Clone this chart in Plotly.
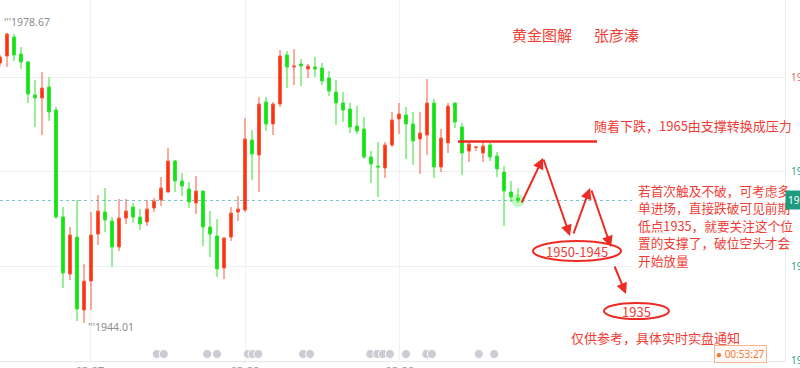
import plotly.graph_objects as go

# XAU/USD hourly candles, 03-27 .. 03-29
opens = [1975.08, 1975.92, 1978.19, 1976.16, 1975.20, 1971.26, 1970.90, 1972.21, 1969.46, 1956.67,
         1949.86, 1954.28, 1945.56, 1949.02, 1954.64, 1957.27, 1956.20, 1953.09, 1956.55, 1957.87,
         1956.67, 1956.08, 1957.75, 1958.71, 1959.66, 1963.37, 1960.98, 1960.02, 1958.35, 1959.78,
         1955.48, 1954.40, 1950.58, 1954.28, 1957.27, 1957.51, 1965.88, 1964.08, 1970.42, 1967.79,
         1970.18, 1976.04, 1974.60, 1974.96, 1974.36, 1974.60, 1974.48, 1973.29, 1971.61, 1970.30,
         1969.58, 1967.55, 1967.19, 1963.85, 1962.77, 1962.53, 1965.28, 1968.39, 1968.87, 1967.79,
         1966.00, 1966.47, 1970.30, 1962.65, 1965.52, 1970.30, 1967.43, 1964.56, 1964.98, 1964.32,
         1965.28, 1963.96, 1962.05, 1959.66, 1958.94]
highs = [1976.04, 1978.67, 1978.55, 1976.99, 1975.32, 1973.05, 1974.00, 1973.41, 1969.82, 1957.87,
         1955.48, 1958.71, 1951.06, 1957.27, 1959.30, 1960.14, 1956.67, 1958.83, 1958.83, 1958.35,
         1957.63, 1958.71, 1958.94, 1961.45, 1964.92, 1963.49, 1961.93, 1960.86, 1961.57, 1959.85,
         1957.39, 1956.44, 1954.28, 1957.87, 1959.18, 1968.51, 1967.07, 1971.02, 1971.02, 1970.42,
         1976.63, 1976.51, 1976.75, 1975.56, 1974.96, 1975.80, 1975.08, 1974.12, 1973.05, 1971.61,
         1970.30, 1969.94, 1968.63, 1964.56, 1965.64, 1965.64, 1969.22, 1970.30, 1969.82, 1969.22,
         1969.22, 1973.17, 1970.78, 1967.19, 1970.30, 1970.36, 1967.91, 1965.64, 1965.16, 1965.88,
         1965.52, 1964.44, 1962.77, 1960.98, 1960.14]
lows = [1974.72, 1974.60, 1975.32, 1974.36, 1970.30, 1967.43, 1966.47, 1968.15, 1956.44, 1948.19,
        1949.14, 1944.24, 1944.01, 1945.56, 1953.33, 1954.88, 1950.70, 1952.61, 1955.84, 1955.96,
        1955.12, 1955.60, 1957.27, 1957.99, 1959.60, 1959.66, 1959.18, 1957.75, 1957.03, 1953.21,
        1951.89, 1949.50, 1949.26, 1953.81, 1956.20, 1957.27, 1961.10, 1959.66, 1966.95, 1966.47,
        1969.82, 1972.09, 1972.45, 1972.33, 1973.29, 1973.41, 1972.45, 1971.14, 1967.67, 1968.03,
        1966.71, 1966.59, 1963.61, 1960.74, 1959.06, 1961.33, 1965.04, 1966.59, 1963.61, 1962.89,
        1961.81, 1964.08, 1961.33, 1962.05, 1964.32, 1967.31, 1961.69, 1963.25, 1964.56, 1963.25,
        1963.37, 1961.45, 1955.60, 1958.47, 1958.35]
closes = [1975.80, 1978.55, 1976.04, 1975.20, 1971.38, 1970.90, 1972.09, 1969.22, 1956.67, 1949.98,
          1954.52, 1945.68, 1949.02, 1954.52, 1957.39, 1956.32, 1953.09, 1956.55, 1957.39, 1956.67,
          1955.84, 1957.63, 1958.59, 1960.14, 1963.37, 1960.98, 1960.38, 1958.47, 1959.78, 1955.48,
          1954.64, 1950.46, 1954.16, 1957.15, 1957.63, 1966.00, 1964.20, 1970.18, 1967.79, 1970.18,
          1975.92, 1974.60, 1974.72, 1974.72, 1974.72, 1974.36, 1972.93, 1971.73, 1970.30, 1969.46,
          1967.43, 1966.95, 1963.85, 1963.01, 1962.65, 1965.28, 1968.27, 1968.99, 1967.79, 1965.76,
          1966.71, 1970.30, 1962.65, 1966.12, 1969.94, 1968.03, 1964.32, 1965.40, 1965.04, 1965.16,
          1963.85, 1962.41, 1959.78, 1959.06, 1958.65]
bars = list(range(len(opens)))

# day separators (in bar units) and their labels
day_ticks = [12.86, 35.0, 57.14]
day_labels = ["03-27", "03-28", "03-29"]

# price grid
price_ticks = [1973.40, 1962.10, 1950.80, 1939.50]

# economic-calendar events (bar positions)
event_bars = [22.4, 23.4, 29.6, 31.0, 35.4, 36.1, 36.9, 43.3, 44.3, 52.9, 53.9, 54.7, 55.7,
              58.0, 60.9, 61.7, 68.4, 70.6]

resistance_level = 1965.7

# ---- scale set-up ----
PLOT_W, PLOT_H = 785, 361
BAR_PX = 7.0
PX_PER_PRICE = 8.367
Y_TOP = 1982.61
x_range = [0, PLOT_W / BAR_PX]
y_range = [Y_TOP - PLOT_H / PX_PER_PRICE, Y_TOP]


def bx(px):
    """screen x (px) -> bar units"""
    return px / BAR_PX


def by(py):
    """screen y (px) -> price"""
    return Y_TOP - py / PX_PER_PRICE


RED = "#ef2a24"
TXT_RED = "#f03c34"
CJK = "Noto Sans CJK SC"

fig = go.Figure()

fig.add_trace(go.Candlestick(
    x=bars, open=opens, high=highs, low=lows, close=closes,
    increasing=dict(line=dict(color="#f9583c", width=1), fillcolor="#ff2d0a"),
    decreasing=dict(line=dict(color="#2ee22e", width=1), fillcolor="#0de80d"),
    whiskerwidth=0, hoverinfo="skip", showlegend=False,
))

# soft glow on the live bar
fig.add_trace(go.Scatter(
    x=[bars[-1]], y=[closes[-1]], mode="markers",
    marker=dict(size=13, color="rgba(40,230,40,0.28)"),
    hoverinfo="skip", showlegend=False,
))

# event icons along the bottom
event_y = by(354)
fig.add_trace(go.Scatter(
    x=event_bars, y=[event_y] * len(event_bars), mode="markers",
    marker=dict(size=9, color="#cbccd4", line=dict(color="white", width=1)),
    hoverinfo="skip", showlegend=False, cliponaxis=False,
))

last = closes[-1]

shapes = [
    # live price line
    dict(type="line", xref="paper", x0=0, x1=1, yref="y", y0=last, y1=last,
         line=dict(color="#79c6c9", width=1, dash="dot"), layer="below"),
    # backdrop of the note block
    dict(type="rect", xref="x", yref="y", x0=bx(632), x1=bx(785), y0=by(181), y1=by(268),
         fillcolor="white", line=dict(width=0), layer="above"),
    # 1965 resistance
    dict(type="line", xref="x", yref="y", x0=bx(458), x1=bx(597),
         y0=resistance_level, y1=resistance_level, line=dict(color=RED, width=2.5), layer="above"),
    # target zones
    dict(type="circle", xref="x", yref="y", x0=bx(533), x1=bx(621), y0=by(261), y1=by(241),
         line=dict(color=RED, width=2), layer="above"),
    dict(type="circle", xref="x", yref="y", x0=bx(604), x1=bx(669), y0=by(319), y1=by(303),
         line=dict(color=RED, width=2), layer="above"),
]

annotations = []

# high / low markers
hi_i = highs.index(max(highs))
lo_i = lows.index(min(lows))
annotations.append(dict(x=hi_i, y=highs[hi_i], xref="x", yref="y", text="'''" + f"{highs[hi_i]:.2f}",
                        showarrow=False, xanchor="left", yanchor="middle", xshift=-5, yshift=11,
                        font=dict(family="Noto Sans", size=10.5, color="#8c8c8c")))
annotations.append(dict(x=lo_i, y=lows[lo_i], xref="x", yref="y", text="'''" + f"{lows[lo_i]:.2f}",
                        showarrow=False, xanchor="left", yanchor="middle", xshift=2, yshift=-4,
                        font=dict(family="Noto Sans", size=10.5, color="#8c8c8c")))

# heading
annotations.append(dict(x=bx(542), y=by(34), xref="x", yref="y", text="黄金图解", showarrow=False,
                        font=dict(family=CJK, size=15, color=TXT_RED)))
annotations.append(dict(x=bx(616), y=by(34), xref="x", yref="y", text="张彦溱", showarrow=False,
                        font=dict(family=CJK, size=15, color=TXT_RED)))

annotations.append(dict(x=bx(592), y=by(125), xref="x", yref="y", text="随着下跌，1965由支撑转换成压力",
                        showarrow=False, xanchor="left", font=dict(family=CJK, size=13, color=TXT_RED)))

note_lines = ["若首次触及不破，可考虑多", "单进场，直接跌破可见前期", "低点1935，就要关注这个位",
              "置的支撑了，破位空头才会", "开始放量"]
for k, line in enumerate(note_lines):
    annotations.append(dict(x=bx(636), y=by(190 + 17.5 * k), xref="x", yref="y", text=line,
                            showarrow=False, xanchor="left",
                            font=dict(family=CJK, size=12.7, color=TXT_RED)))

annotations.append(dict(x=bx(577), y=by(251), xref="x", yref="y", text="1950-1945", showarrow=False,
                        font=dict(family=CJK, size=13, color=TXT_RED)))
annotations.append(dict(x=bx(636.5), y=by(311), xref="x", yref="y", text="1935", showarrow=False,
                        font=dict(family=CJK, size=13, color=TXT_RED)))
annotations.append(dict(x=bx(655), y=by(337), xref="x", yref="y", text="仅供参考，具体实时实盘通知",
                        showarrow=False, font=dict(family=CJK, size=13, color=TXT_RED)))

# scenario path arrows (tail -> head, screen px)
arrows = [
    (521, 204, 543, 158),
    (543, 158, 570, 236),
    (573, 235, 590, 188),
    (591, 189, 611, 247),
    (614, 265, 626, 294),
]
for tx, ty, hx, hy in arrows:
    annotations.append(dict(x=bx(hx), y=by(hy), ax=bx(tx), ay=by(ty), xref="x", yref="y",
                            axref="x", ayref="y", text="", showarrow=True, arrowhead=2,
                            arrowsize=1.1, arrowwidth=2, arrowcolor=RED, standoff=0, startstandoff=0))

# bar countdown
annotations.append(dict(x=bx(740), y=by(353.5), xref="x", yref="y", text="● 00:53:27", showarrow=False,
                        font=dict(family="Noto Sans", size=10, color="#f07a3a"),
                        bgcolor="#fffaf6", bordercolor="#f6b38f", borderwidth=1, borderpad=1))

# live price tag on the axis
annotations.append(dict(xref="paper", x=1, y=last, yref="y", text=f"{last:.2f}", showarrow=False,
                        xanchor="left", yanchor="middle", bgcolor="#1f9c80",
                        font=dict(family="Noto Sans", size=10, color="white"), borderpad=2))

tick_colors = ["#e26a6a", "#2aa58d", "#2aa58d", "#2aa58d"]
tick_text = [f'<span style="color:{c}">{v:.2f}</span>' for v, c in zip(price_ticks, tick_colors)]

fig.update_layout(
    width=800, height=368,
    margin=dict(l=0, r=15, t=0, b=7),
    paper_bgcolor="white", plot_bgcolor="white",
    showlegend=False, boxgap=0.42,
    shapes=shapes, annotations=annotations,
    xaxis=dict(range=x_range, rangeslider=dict(visible=False), tickmode="array",
               tickvals=day_ticks, ticktext=day_labels, showgrid=True, gridcolor="#f0f0f0",
               showline=True, linecolor="#e8e8e8", ticks="", zeroline=False, automargin=False,
               tickfont=dict(family="Noto Sans", size=11, color="#999999"), fixedrange=True),
    yaxis=dict(side="right", range=y_range, tickmode="array", tickvals=price_ticks, ticktext=tick_text,
               showgrid=True, gridcolor="#f0f0f0", showline=True, linecolor="#ececec", ticks="",
               zeroline=False, automargin=False, ticklabelstandoff=3,
               tickfont=dict(family="Noto Sans", size=10, color="#2aa58d"), fixedrange=True),
)

fig.write_html("out.html")
